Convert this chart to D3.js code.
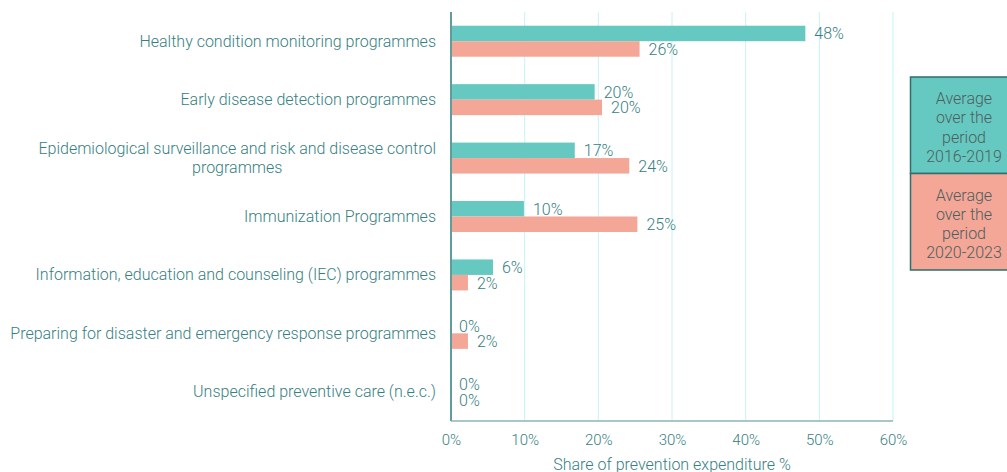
<!DOCTYPE html>
<html>
<head>
<meta charset="utf-8">
<title>Prevention expenditure by programme</title>
<script src="https://cdn.jsdelivr.net/npm/d3@7"></script>
<style>
body { margin: 0; background: #fff; }
svg { font-family: Roboto, "Noto Sans", sans-serif; font-weight: 300; }
</style>
</head>
<body>
<div id="chart"></div>
<script>
// data
var categories = [
	"Healthy condition monitoring programmes",
	"Early disease detection programmes",
	"Epidemiological surveillance and risk and disease control|programmes",
	"Immunization Programmes",
	"Information, education and counseling (IEC) programmes",
	"Preparing for disaster and emergency response programmes",
	"Unspecified preventive care (n.e.c.)"
];
var period1 = [48.1, 19.5, 16.8, 9.9, 5.7, 0, 0];   // 2016-2019
var period2 = [25.6, 20.5, 24.2, 25.3, 2.3, 2.3, 0]; // 2020-2023
var labels1 = ["48%", "20%", "17%", "10%", "6%", "0%", "0%"];
var labels2 = ["26%", "20%", "24%", "25%", "2%", "2%", "0%"];
var xTicks = [0, 10, 20, 30, 40, 50, 60];
var legendLines = [
	["Average", "over the", "period", "2016-2019"],
	["Average", "over the", "period", "2020-2023"]
];

var W = 1007, H = 472;
var teal = "#66c9c1", salmon = "#f4a697", textCol = "#37807f";
var svg = d3.select("#chart").append("svg").attr("width", W).attr("height", H);

var x = d3.scaleLinear().domain([0, 60]).range([451, 893]);
var y = d3.scaleBand().domain(d3.range(categories.length)).range([12, 421]);
var barH = 15.5;

// gridlines
svg.append("g").selectAll("line").data(xTicks.slice(1)).enter().append("line")
	.attr("x1", d => x(d)).attr("x2", d => x(d))
	.attr("y1", 12).attr("y2", 421)
	.attr("stroke", "#c6f3f7").attr("stroke-width", 1);

// bars
var rows = svg.append("g").selectAll("g").data(categories).enter().append("g");
rows.append("rect")
	.attr("x", x(0)).attr("y", (d, i) => y(i) + y.bandwidth() / 2 - barH)
	.attr("width", (d, i) => x(period1[i]) - x(0)).attr("height", barH)
	.attr("fill", teal);
rows.append("rect")
	.attr("x", x(0)).attr("y", (d, i) => y(i) + y.bandwidth() / 2)
	.attr("width", (d, i) => x(period2[i]) - x(0)).attr("height", barH)
	.attr("fill", salmon);

// value labels
rows.append("text")
	.attr("x", (d, i) => x(period1[i]) + (period1[i] > 0 ? 9 : 8))
	.attr("y", (d, i) => y(i) + y.bandwidth() / 2 - barH / 2 + 6)
	.attr("font-size", 16).attr("fill", textCol)
	.text((d, i) => labels1[i]);
rows.append("text")
	.attr("x", (d, i) => x(period2[i]) + (period2[i] > 0 ? 9 : 8))
	.attr("y", (d, i) => y(i) + y.bandwidth() / 2 + barH / 2 + 6)
	.attr("font-size", 16).attr("fill", textCol)
	.text((d, i) => labels2[i]);

// category labels (right aligned block, wrapped lines centred)
rows.each(function(d, i) {
	var lines = d.split("|");
	var t = d3.select(this).append("text").attr("font-size", 16).attr("fill", textCol)
		.attr("text-anchor", "middle");
	var cy = y(i) + y.bandwidth() / 2;
	var spans = lines.map((l, k) => t.append("tspan").text(l));
	var maxW = d3.max(spans, s => s.node().getComputedTextLength());
	var y0 = cy + 5.5 - (lines.length - 1) * 9.5;
	spans.forEach((s, k) => s.attr("x", 436 - maxW / 2).attr("y", y0 + k * 19));
});

// axes lines
svg.append("line").attr("x1", x(0)).attr("x2", x(0)).attr("y1", 12).attr("y2", 421)
	.attr("stroke", "#5f9d9d").attr("stroke-width", 2);
svg.append("line").attr("x1", x(0)).attr("x2", 893).attr("y1", 421).attr("y2", 421)
	.attr("stroke", "#8fb3b3").attr("stroke-width", 1.5);

// x tick labels
var xAxis = d3.axisBottom(x).tickValues(xTicks).tickFormat(d => d + "%").tickSize(0).tickPadding(13);
var gx = svg.append("g").attr("transform", "translate(0,421)").call(xAxis);
gx.select(".domain").remove();
gx.selectAll("text").attr("font-size", 15).attr("fill", textCol)
	.attr("font-family", "Roboto, sans-serif").attr("font-weight", 300);

svg.append("text").attr("x", x(30)).attr("y", 470).attr("text-anchor", "middle")
	.attr("font-size", 16).attr("fill", textCol).text("Share of prevention expenditure %");

// legend boxes
var lg = svg.append("g");
var boxTop = [77, 173.5], boxH = 96.5, fills = [teal, salmon];
legendLines.forEach(function(lines, j) {
	lg.append("rect").attr("x", 910.5).attr("y", boxTop[j]).attr("width", 110).attr("height", boxH)
		.attr("fill", fills[j]).attr("stroke", "#2d6f6e").attr("stroke-width", 1.5);
	lines.forEach(function(l, k) {
		lg.append("text").attr("x", 964).attr("y", boxTop[j] + 27 + k * 19.3)
			.attr("text-anchor", "middle").attr("font-size", 16).attr("fill", "#4d5e5e")
			.text(l);
	});
});
</script>
</body>
</html>
